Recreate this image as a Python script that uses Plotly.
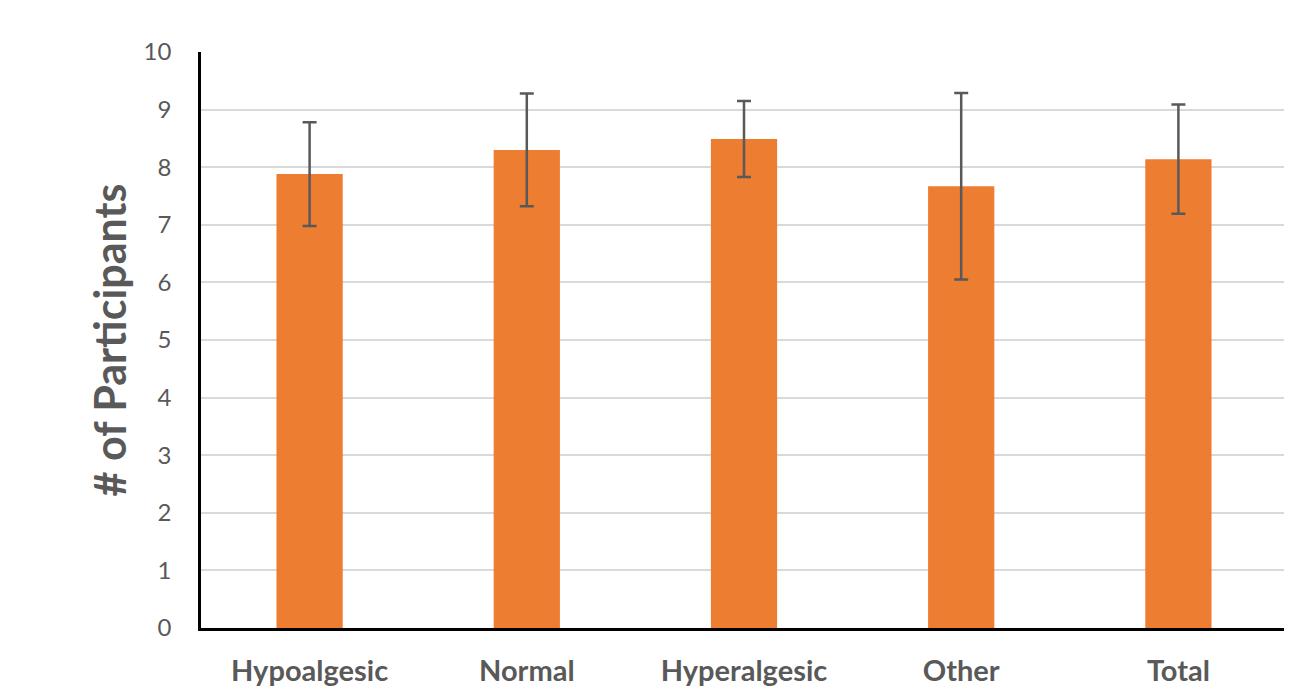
import plotly.graph_objects as go

categories = ["Hypoalgesic", "Normal", "Hyperalgesic", "Other", "Total"]
means = [7.88, 8.30, 8.49, 7.67, 8.14]
errors = [0.90, 0.98, 0.66, 1.62, 0.95]
y_ticks = list(range(0, 11))

fig = go.Figure()
fig.add_trace(go.Bar(
    x=categories, y=means,
    marker=dict(color="#ED7D31", line=dict(width=0)),
    width=0.305,
    error_y=dict(type="data", array=errors, visible=True,
                 color="#595959", thickness=2.5, width=7),
))

fig.update_layout(
    width=1284, height=679,
    margin=dict(l=193, r=5, t=44, b=59),
    paper_bgcolor="white", plot_bgcolor="white",
    showlegend=False,
    font=dict(family="Lato, Open Sans, sans-serif", color="#595959"),
    xaxis=dict(
        automargin=False,
        showline=True, linecolor="black", linewidth=2.5,
        showgrid=False, ticks="", ticklabelstandoff=15,
        tickfont=dict(size=29, color="#595959", family="Lato, sans-serif", weight="bold"),
    ),
    yaxis=dict(
        automargin=False,
        range=[0, 10], tickvals=y_ticks, showline=True, linecolor="black", linewidth=2.5,
        showgrid=True, gridcolor="#D9D9D9", gridwidth=2, zeroline=False,
        ticks="", ticklabelstandoff=22,
        tickfont=dict(size=24, color="#595959"),
        title=dict(text="# of Participants", standoff=4,
                   font=dict(size=43, color="#595959", weight="bold")),
    ),
)

fig.write_html("out.html")
